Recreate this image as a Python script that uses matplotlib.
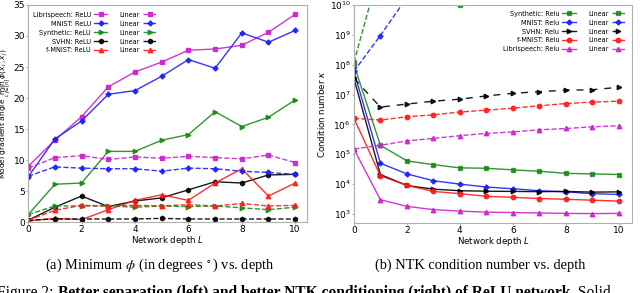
import matplotlib
matplotlib.use('Agg')
import matplotlib.pyplot as plt

plt.rcParams['mathtext.fontset'] = 'stix'

depth = list(range(11))

# left panel: min gradient angle (degrees)
ang_relu = {
    'Librispeech': [9.0, 13.2, 17.0, 21.8, 24.2, 25.8, 27.7, 27.9, 28.5, 30.6, 33.5],
    'MNIST':       [7.3, 13.4, 16.3, 20.6, 21.2, 23.5, 26.2, 24.8, 30.5, 29.0, 30.9],
    'Synthetic':   [1.2, 6.1, 6.3, 11.4, 11.4, 13.2, 14.1, 17.8, 15.4, 16.9, 19.7],
    'SVHN':        [0.3, 2.4, 4.2, 2.5, 3.4, 3.9, 5.2, 6.5, 6.3, 7.6, 7.7],
    'f-MNIST':     [0.2, 0.6, 0.4, 2.0, 3.5, 4.4, 3.5, 6.3, 8.6, 4.2, 6.3],
}
ang_linear = {
    'Librispeech': [8.7, 10.4, 10.7, 10.1, 10.5, 10.3, 10.6, 10.4, 10.2, 10.8, 9.6],
    'MNIST':       [7.4, 8.9, 8.7, 8.6, 8.6, 8.2, 8.7, 8.6, 8.2, 8.0, 7.7],
    'Synthetic':   [1.2, 2.6, 2.6, 2.6, 2.4, 2.6, 2.5, 2.6, 2.3, 2.0, 2.4],
    'SVHN':        [0.3, 0.5, 0.5, 0.5, 0.5, 0.6, 0.5, 0.5, 0.5, 0.5, 0.5],
    'f-MNIST':     [0.3, 1.9, 2.7, 2.6, 2.7, 2.6, 2.8, 2.6, 3.0, 2.6, 2.7],
}

# right panel: NTK condition number
kappa_relu = {
    'Synthetic':   [1.0e8, 2.0e5, 6.0e4, 4.5e4, 3.5e4, 3.4e4, 3.0e4, 2.7e4, 2.3e4, 2.2e4, 2.1e4],
    'MNIST':       [6.0e7, 5.0e4, 2.2e4, 1.3e4, 1.0e4, 8.0e3, 7.0e3, 6.0e3, 5.5e3, 4.8e3, 4.5e3],
    'SVHN':        [3.5e7, 2.1e4, 9.0e3, 6.8e3, 6.0e3, 5.8e3, 5.7e3, 5.6e3, 5.7e3, 5.4e3, 5.5e3],
    'f-MNIST':     [1.6e6, 1.9e4, 9.0e3, 5.7e3, 4.8e3, 3.9e3, 3.6e3, 3.3e3, 3.1e3, 2.9e3, 2.7e3],
    'Librispeech': [1.5e5, 3.0e3, 1.8e3, 1.4e3, 1.25e3, 1.15e3, 1.12e3, 1.08e3, 1.05e3, 1.03e3, 1.05e3],
}
kappa_linear = {
    'Synthetic':   [1.2e8, 2e11, 5e12, 1e12, 1.0e10, 3e12, 5e12, 8e12, 1e13, 2e13, 3e13],
    'MNIST':       [6.0e7, 9.5e8, 1.8e10, 3e11, 5e12, 8e13, 1e15, 2e16, 3e17, 5e18, 8e19],
    'SVHN':        [3.5e7, 3.8e6, 4.8e6, 6.0e6, 7.0e6, 9.0e6, 1.1e7, 1.25e7, 1.4e7, 1.45e7, 1.75e7],
    'f-MNIST':     [1.6e6, 1.4e6, 1.8e6, 2.1e6, 2.6e6, 3.0e6, 3.5e6, 4.2e6, 5.0e6, 5.6e6, 6.0e6],
    'Librispeech': [1.5e5, 2.0e5, 2.8e5, 3.4e5, 4.2e5, 5.0e5, 5.6e5, 6.6e5, 7.3e5, 8.3e5, 9.0e5],
}

colors = {'Librispeech': '#cc22cc', 'MNIST': '#1f1fff', 'Synthetic': '#1a8a1a',
          'SVHN': 'black', 'f-MNIST': '#ff1a1a'}
mk_left = {'Librispeech': 's', 'MNIST': 'P', 'Synthetic': '>', 'SVHN': 'h', 'f-MNIST': '^'}
mk_right = {'Synthetic': 'X', 'MNIST': 'P', 'SVHN': '>', 'f-MNIST': 'o', 'Librispeech': '^'}

fig = plt.figure(figsize=(6.4, 2.93), dpi=100)
ax1 = fig.add_axes([0.044, 0.242, 0.436, 0.741])
ax2 = fig.add_axes([0.553, 0.239, 0.4345, 0.744])


def style(ax):
    for s in ax.spines.values():
        s.set_color('#b0b0b0')
    ax.tick_params(labelsize=6.5, length=1.5, color='#b0b0b0', pad=0.8)
    ax.set_xticks([0, 2, 4, 6, 8, 10])
    ax.set_xlabel('Network depth $L$', fontsize=6.2, labelpad=0,
                  math_fontfamily='dejavusans')


leg_kw = dict(ncol=2, frameon=False, markerfirst=False, fontsize=4.7,
              handlelength=2.0, columnspacing=1.9, labelspacing=0.45,
              handletextpad=0.5, borderaxespad=0.3)

kw = dict(lw=1.0, ms=3.2, alpha=0.9)
for name in ang_relu:
    ax1.plot(depth, ang_relu[name], '-', color=colors[name], marker=mk_left[name],
             label=name + ': ReLU', **kw)
for name in ang_linear:
    ax1.plot(depth, ang_linear[name], '--', color=colors[name], marker=mk_left[name],
             label='Linear', **kw)
ax1.set_xlim(0, 10.45)
ax1.set_ylim(0, 35)
ax1.set_yticks(range(0, 36, 5))
style(ax1)
ax1.set_ylabel(r'Model gradient angle $\min_{i,j\in[n]}\,\phi(x_i,x_j)$', fontsize=5.4,
               math_fontfamily='dejavusans')
ax1.yaxis.set_label_coords(-0.054, 0.5)
ax1.legend(loc='upper left', bbox_to_anchor=(0.0, 0.99), **leg_kw)

for name in kappa_relu:
    ax2.plot(depth, kappa_relu[name], '-', color=colors[name], marker=mk_right[name],
             label=name + ': Relu', **kw)
for name in kappa_linear:
    ls = (0, (5, 5)) if name == 'SVHN' else '--'
    ax2.plot(depth, kappa_linear[name], linestyle=ls, color=colors[name],
             marker=mk_right[name], label='Linear', **kw)
ax2.set_yscale('log')
ax2.set_xlim(0, 10.5)
ax2.set_ylim(5e2, 1e10)
ax2.set_yticks([1e3, 1e4, 1e5, 1e6, 1e7, 1e8, 1e9, 1e10])
ax2.minorticks_off()
style(ax2)
ax2.set_ylabel(r'Condition number $\kappa$', fontsize=6.2, labelpad=2,
               math_fontfamily='dejavusans')
ax2.legend(loc='upper right', bbox_to_anchor=(0.99, 0.995), **leg_kw)

serif = 'Liberation Serif'
fig.text(0.25, 0.095, r'(a) Minimum $\phi$ (in degrees $^\circ$) vs. depth',
         ha='center', va='center', fontsize=10.4, family=serif)
fig.text(0.75, 0.095, '(b) NTK condition number vs. depth',
         ha='center', va='center', fontsize=10.4, family=serif)

# bottom caption line, cut by the lower edge as in the original page crop
parts = [('Figure 2: ', 'normal'),
         ('Better separation (left) and better NTK conditioning (right) of ReLU network.', 'bold'),
         (' Solid', 'normal')]
renderer = fig.canvas.get_renderer()
x = -0.004
for s, w in parts:
    t = fig.text(x, 0.028, s, ha='left', va='top', fontsize=11.2, family=serif, weight=w)
    bb = t.get_window_extent(renderer)
    x += bb.width / fig.bbox.width

fig.savefig('out.png', dpi=100)
